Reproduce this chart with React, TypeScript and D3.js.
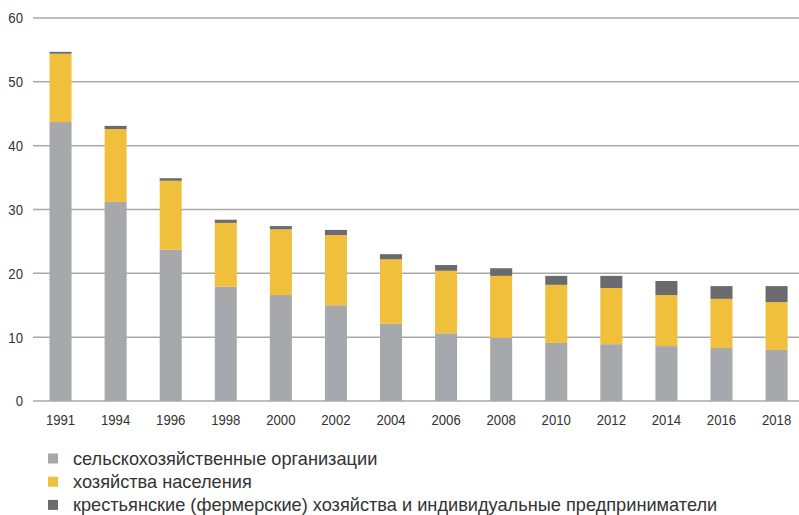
import { useEffect, useRef } from "react";
import * as d3 from "d3";

const years = ["1991", "1994", "1996", "1998", "2000", "2002", "2004", "2006", "2008", "2010", "2012", "2014", "2016", "2018"];
const agriOrgs = [43.7, 31.2, 23.7, 17.9, 16.6, 15.0, 12.1, 10.6, 9.9, 9.1, 8.9, 8.6, 8.3, 8.0];
const households = [10.7, 11.4, 10.8, 10.0, 10.3, 11.0, 10.1, 9.8, 9.7, 9.1, 8.8, 8.0, 7.7, 7.5];
const farmers = [0.3, 0.5, 0.4, 0.5, 0.5, 0.8, 0.8, 0.9, 1.2, 1.4, 1.9, 2.2, 2.0, 2.5];
const yTicks = [0, 10, 20, 30, 40, 50, 60];

const seriesNames = [
  "сельскохозяйственные организации",
  "хозяйства населения",
  "крестьянские (фермерские) хозяйства и индивидуальные предприниматели",
];
const seriesKeys = ["agri", "house", "farm"];
const colors = ["#a7a8ab", "#f0bf3c", "#6b6b6f"];

export default function App() {
  const svgRef = useRef<SVGSVGElement | null>(null);

  useEffect(() => {
    if (!svgRef.current) return;
    const svg = d3.select(svgRef.current);
    svg.selectAll("*").remove();

    const width = 799;
    const left = 33;
    const font = "'Liberation Sans', Arial, sans-serif";
    const squeeze = 0.85;

    const rows = years.map((year, i) => ({
      year,
      agri: agriOrgs[i],
      house: households[i],
      farm: farmers[i],
    }));

    const x = d3
      .scaleBand<string>()
      .domain(years)
      .range([left, left + 14 * 55.08])
      .paddingInner(0.6)
      .paddingOuter(0.3);
    const y = d3.scaleLinear().domain([0, 60]).range([401, 18]);

    // gridlines
    svg
      .append("g")
      .selectAll("line")
      .data(yTicks)
      .join("line")
      .attr("x1", left)
      .attr("x2", width)
      .attr("y1", (d) => y(d))
      .attr("y2", (d) => y(d))
      .attr("stroke", "#a9a9a9")
      .attr("stroke-width", 1.5);

    // y labels
    svg
      .append("g")
      .selectAll("text")
      .data(yTicks)
      .join("text")
      .attr("transform", (d) => `translate(23,${y(d)}) scale(${squeeze},1)`)
      .attr("text-anchor", "end")
      .attr("dy", "0.35em")
      .attr("font-family", font)
      .attr("font-size", 15.5)
      .attr("fill", "#333")
      .text((d) => d);

    const stacked = d3.stack<(typeof rows)[number]>().keys(seriesKeys)(rows as any);

    svg
      .append("g")
      .selectAll("g")
      .data(stacked)
      .join("g")
      .attr("fill", (_, i) => colors[i])
      .selectAll("rect")
      .data((s) => s)
      .join("rect")
      .attr("x", (d) => x(d.data.year)!)
      .attr("width", x.bandwidth())
      .attr("y", (d) => y(d[1]))
      .attr("height", (d) => y(d[0]) - y(d[1]));

    // x labels
    svg
      .append("g")
      .selectAll("text")
      .data(years)
      .join("text")
      .attr("transform", (d) => `translate(${x(d)! + x.bandwidth() / 2},420) scale(${squeeze},1)`)
      .attr("text-anchor", "middle")
      .attr("dy", "0.35em")
      .attr("font-family", font)
      .attr("font-size", 15.5)
      .attr("fill", "#333")
      .text((d) => d);

    // legend
    const legend = svg
      .append("g")
      .selectAll("g")
      .data(seriesNames)
      .join("g")
      .attr("transform", (_, i) => `translate(48,${458.5 + i * 23.2})`);
    legend
      .append("rect")
      .attr("x", 0)
      .attr("y", -5)
      .attr("width", 10)
      .attr("height", 10)
      .attr("fill", (_, i) => colors[i]);
    legend
      .append("text")
      .attr("x", 25)
      .attr("dy", "0.35em")
      .attr("font-family", font)
      .attr("font-size", 18.2)
      .attr("fill", "#333")
      .text((d) => d);
  }, []);

  return (
    <svg
      ref={svgRef}
      width={799}
      height={515}
      style={{ position: "absolute", left: 0, top: 0, background: "#fff" }}
    />
  );
}
